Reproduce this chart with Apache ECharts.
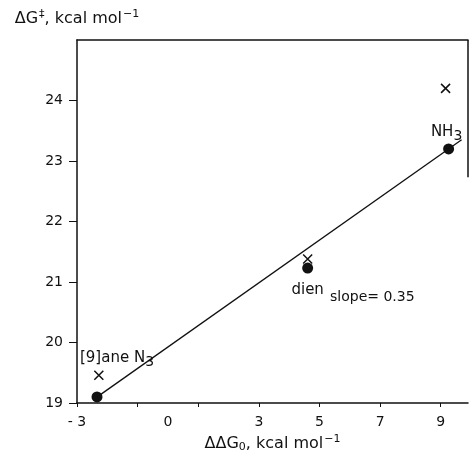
<!DOCTYPE html>
<html lang="en">
<head>
    <meta charset="UTF-8">
    <title>dG vs ddG0</title>
    <style>
        html, body { margin: 0; padding: 0; background: #fff; }
        #chart { width: 470px; height: 452px; }
    </style>
</head>
<body>
<div id="chart"></div>
<script src="https://cdn.jsdelivr.net/npm/echarts@6/dist/echarts.min.js"></script>
<script>
    // values
    var names = ['[9]aneN3', 'dien', 'NH3'];
    var ddG0 = [-2.34, 4.61, 9.26];
    var dGdots = [19.1, 21.23, 23.2];
    var crossX = [-2.28, 4.61, 9.16];
    var crossY = [19.46, 21.38, 24.2];
    var fitLine = [[-2.25, 19.13], [9.69, 23.35]];
    var xLabels = [-3, 0, 3, 5, 7, 9];
    var xTicks = [-3, -1, 1, 3, 5, 7, 9];
    var yTicks = [19, 20, 21, 22, 23, 24];

    var font = 'DejaVu Sans';
    var ink = '#111';

    var crosses = names.map(function (n, i) {
        return [crossX[i], crossY[i]];
    });

    var chart = echarts.init(document.getElementById('chart'));
    chart.setOption({
        backgroundColor: '#fff',
        animation: false,
        textStyle: { fontFamily: font, color: ink },
        grid: { left: 77, right: 2, top: 40, bottom: 49, outerBoundsMode: 'none', containLabel: false },
        xAxis: [{
            type: 'value', min: -3, max: 9.9,
            name: '{t|ΔΔG}{b|0}{t|, kcal mol}{s|−1}',
            nameLocation: 'middle', nameGap: 31,
            nameTextStyle: {
                rich: {
                    t: { fontFamily: font, fontSize: 16, color: ink },
                    b: { fontFamily: font, fontSize: 11, color: ink, padding: [8, 0, 0, 0] },
                    s: { fontFamily: font, fontSize: 11, color: ink, padding: [0, 0, 8, 1] }
                }
            },
            axisLine: { onZero: false, lineStyle: { color: ink, width: 1.5 } },
            axisTick: { customValues: xTicks, length: 4, lineStyle: { color: ink } },
            axisLabel: {
                customValues: xLabels, margin: 12, fontSize: 14, color: ink,
                formatter: function (v) { return v < 0 ? '- ' + Math.abs(v) : String(v); }
            },
            splitLine: { show: false }
        }, {
            type: 'value', min: -3, max: 9.9, position: 'top',
            axisLine: { show: true, onZero: false, lineStyle: { color: ink, width: 1.5 } },
            axisTick: { show: false }, axisLabel: { show: false }, splitLine: { show: false }
        }],
        yAxis: {
            type: 'value', min: 19, max: 25,
            name: '{t|ΔG}{s|‡}{t|, kcal mol}{s|−1}',
            nameLocation: 'end', nameGap: 12,
            nameTextStyle: {
                rich: {
                    t: { fontFamily: font, fontSize: 16, color: ink },
                    s: { fontFamily: font, fontSize: 11, color: ink, padding: [0, 0, 8, 1] }
                }
            },
            axisLine: { onZero: false, lineStyle: { color: ink, width: 1.5 } },
            axisTick: { customValues: yTicks, length: 8, lineStyle: { color: ink } },
            axisLabel: { customValues: yTicks, margin: 14, fontSize: 14, color: ink },
            splitLine: { show: false }
        },
        series: [{
            type: 'line', data: fitLine, symbol: 'none',
            lineStyle: { color: ink, width: 1.3 },
            markLine: {
                silent: true, symbol: 'none',
                lineStyle: { color: ink, width: 1.5, type: 'solid' },
                label: { show: false },
                data: [[{ coord: [9.9, 22.73] }, { coord: [9.9, 25] }]]
            }
        }, {
            type: 'scatter', data: crosses,
            symbol: 'path://M0,0L10,10M10,0L0,10', symbolSize: 9,
            itemStyle: { color: 'rgba(0,0,0,0)', borderColor: ink, borderWidth: 1.5, opacity: 1 }
        }, {
            type: 'scatter', symbolSize: 11,
            itemStyle: { color: ink, opacity: 1 },
            label: {
                show: true, color: ink, fontFamily: font, fontSize: 15,
                formatter: function (p) {
                    if (p.name === 'NH3') return '{t|NH}{b|3}';
                    if (p.name === '[9]aneN3') return '{t|[9]ane N}{b|3}';
                    return '{t|' + p.name + '}';
                },
                rich: {
                    t: { fontFamily: font, fontSize: 15, color: ink },
                    b: { fontFamily: font, fontSize: 14, color: ink, padding: [8, 0, 0, 0] }
                }
            },
            data: [
                { value: [ddG0[0], dGdots[0]], name: names[0], label: { position: 'top', offset: [20, -17] } },
                { value: [ddG0[1], dGdots[1]], name: names[1], label: { position: 'bottom', offset: [0, 4] } },
                { value: [ddG0[2], dGdots[2]], name: names[2], label: { position: 'top', offset: [-2, 5] } }
            ]
        }],
        graphic: [{
            type: 'text', left: 330, top: 290,
            style: { text: 'slope= 0.35', fontFamily: font, fontSize: 14, fill: ink }
        }]
    });
</script>
</body>
</html>
